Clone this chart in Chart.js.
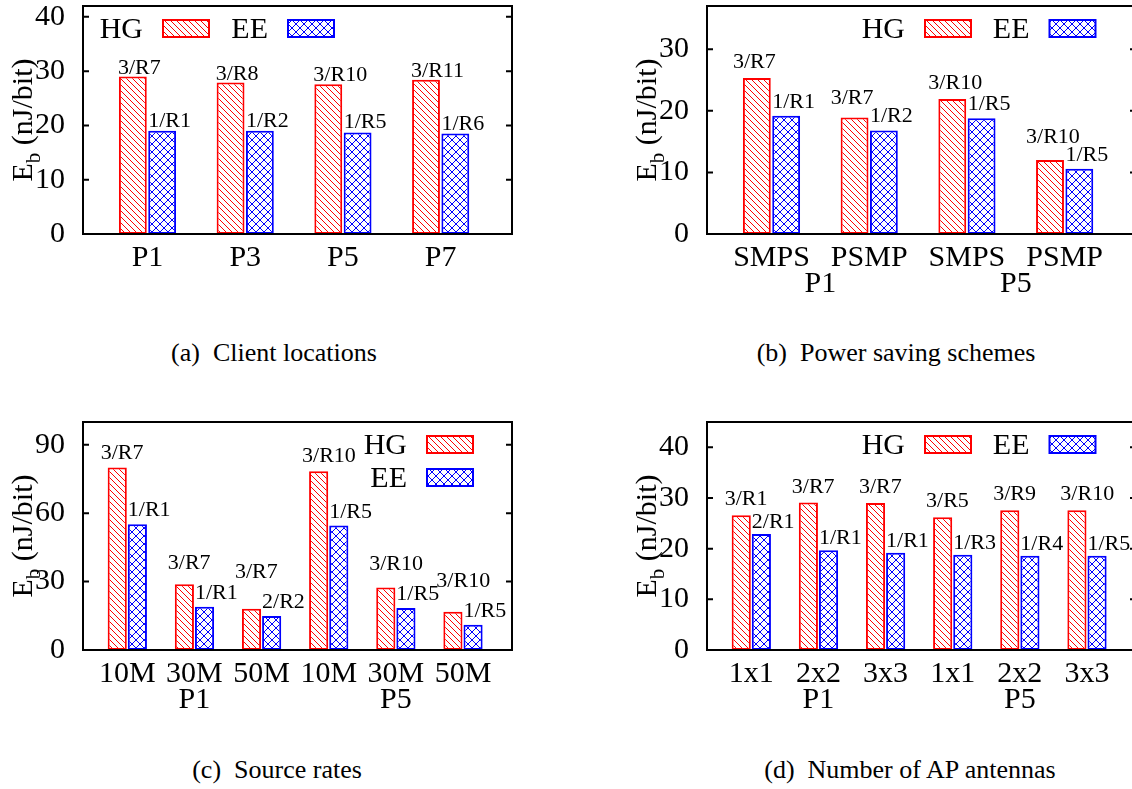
<!DOCTYPE html>
<html>
<head>
<meta charset="utf-8">
<title>Energy per bit</title>
<script src="https://cdn.jsdelivr.net/npm/chart.js@4.4.1/dist/chart.umd.min.js"></script>
<style>
  html, body { margin: 0; padding: 0; background: #fff; overflow: hidden; }
  body { width: 1132px; height: 789px; position: relative; font-family: "Liberation Serif", "Times New Roman", serif; }
  canvas { position: absolute; }
  .cap { position: absolute; font-size: 26px; line-height: 30px; white-space: pre; transform: translateX(-50%); color: #000; }
</style>
</head>
<body>
<canvas id="chartA" width="520" height="304" style="left:0;top:0"></canvas>
<canvas id="chartB" width="520" height="304" style="left:624px;top:0"></canvas>
<canvas id="chartC" width="520" height="304" style="left:0;top:416px"></canvas>
<canvas id="chartD" width="520" height="304" style="left:624px;top:416px"></canvas>
<div class="cap" style="left:274px;top:338px">(a)  Client locations</div>
<div class="cap" style="left:896px;top:338px">(b)  Power saving schemes</div>
<div class="cap" style="left:277px;top:755px">(c)  Source rates</div>
<div class="cap" style="left:910px;top:755px">(d)  Number of AP antennas</div>
<script>
// (a) client locations
const catsA = ['P1', 'P3', 'P5', 'P7'];
const hgA = [29.0, 27.9, 27.6, 28.4];
const eeA = [19.0, 19.0, 18.7, 18.5];
const hgLabA = ['3/R7', '3/R8', '3/R10', '3/R11'];
const eeLabA = ['1/R1', '1/R2', '1/R5', '1/R6'];
const yTicksA = [0, 10, 20, 30, 40];

// (b) power saving schemes
const catsB = ['SMPS', 'PSMP', 'SMPS', 'PSMP'];
const groupsB = ['P1', 'P5'];
const hgB = [25.3, 18.9, 21.9, 12.0];
const eeB = [19.2, 16.8, 18.8, 10.6];
const hgLabB = ['3/R7', '3/R7', '3/R10', '3/R10'];
const eeLabB = ['1/R1', '1/R2', '1/R5', '1/R5'];
const yTicksB = [0, 10, 20, 30];

// (c) source rates
const catsC = ['10M', '30M', '50M', '10M', '30M', '50M'];
const groupsC = ['P1', 'P5'];
const hgC = [80.0, 28.8, 18.1, 78.4, 27.4, 16.8];
const eeC = [55.2, 19.0, 14.9, 54.6, 18.4, 11.1];
const hgLabC = ['3/R7', '3/R7', '3/R7', '3/R10', '3/R10', '3/R10'];
const eeLabC = ['1/R1', '1/R1', '2/R2', '1/R5', '1/R5', '1/R5'];
const yTicksC = [0, 30, 60, 90];

// (d) number of AP antennas
const catsD = ['1x1', '2x2', '3x3', '1x1', '2x2', '3x3'];
const groupsD = ['P1', 'P5'];
const hgD = [26.6, 29.1, 29.0, 26.2, 27.6, 27.6];
const eeD = [22.9, 19.7, 19.2, 18.8, 18.6, 18.6];
const hgLabD = ['3/R1', '3/R7', '3/R7', '3/R5', '3/R9', '3/R10'];
const eeLabD = ['2/R1', '1/R1', '1/R1', '1/R3', '1/R4', '1/R5'];
const yTicksD = [0, 10, 20, 30, 40];

const FONT = '"Liberation Serif"';
const RED = '#ff0000', BLUE = '#0000ff';

function hatch(ctx, color, size, cross) {
  const c = document.createElement('canvas');
  c.width = c.height = size;
  const g = c.getContext('2d');
  g.fillStyle = '#fff';
  g.fillRect(0, 0, size, size);
  g.strokeStyle = color;
  g.lineWidth = 1;
  g.beginPath();
  for (let k = -1; k <= 1; k++) {
    g.moveTo(k * size, 0); g.lineTo(k * size + size, size);
    if (cross) { g.moveTo(k * size, size); g.lineTo(k * size + size, 0); }
  }
  g.stroke();
  return ctx.createPattern(c, 'repeat');
}

// frame, inward ticks, y title, bar labels, group labels and legend
const annot = {
  id: 'annot',
  afterDraw(chart, args, o) {
    const ctx = chart.ctx, a = chart.chartArea;
    const xs = chart.scales.x, ys = chart.scales.y;
    ctx.save();
    ctx.strokeStyle = '#000';
    ctx.lineWidth = 2;
    ctx.strokeRect(a.left, a.top, a.right - a.left, a.bottom - a.top);
    ctx.beginPath();
    ys.ticks.forEach(t => {
      const y = ys.getPixelForValue(t.value);
      if (y <= a.top + 1 || y >= a.bottom - 1) return;
      ctx.moveTo(a.left, y); ctx.lineTo(a.left + 6, y);
      ctx.moveTo(a.right, y); ctx.lineTo(a.right - 6, y);
    });
    ctx.stroke();

    // y axis title: E_b (nJ/bit)
    ctx.fillStyle = '#000';
    ctx.textAlign = 'left';
    ctx.textBaseline = 'alphabetic';
    ctx.font = '30px ' + FONT;
    const w1 = ctx.measureText('E').width, w3 = ctx.measureText(' (nJ/bit)').width;
    ctx.font = '21px ' + FONT;
    const w2 = ctx.measureText('b').width;
    ctx.save();
    ctx.translate(a.left - 51, (a.top + a.bottom) / 2);
    ctx.rotate(-Math.PI / 2);
    const x0 = -(w1 + w2 + w3) / 2;
    ctx.font = '30px ' + FONT;
    ctx.fillText('E', x0, 0);
    ctx.fillText(' (nJ/bit)', x0 + w1 + w2, 0);
    ctx.font = '21px ' + FONT;
    ctx.fillText('b', x0 + w1, 8);
    ctx.restore();

    // labels above the bars
    const ds = chart.data.datasets;
    const mh = chart.getDatasetMeta(0), me = chart.getDatasetMeta(1);
    ctx.font = '22px ' + FONT;
    mh.data.forEach((bh, i) => {
      const be = me.data[i];
      const eeBase = be.y - o.eeGap;
      const hgBase = Math.min(bh.y - o.hgGap, eeBase - o.stackGap);
      ctx.fillText(ds[1].barText[i], be.x - be.width / 2 + o.eeDx, eeBase);
      ctx.fillText(ds[0].barText[i], bh.x - bh.width / 2 + o.hgDx, hgBase);
    });

    // second level category labels
    if (o.groups) {
      const n = xs.ticks.length / o.groups.length;
      ctx.font = '30px ' + FONT;
      ctx.textAlign = 'center';
      ctx.textBaseline = 'middle';
      o.groups.forEach((g, k) => {
        ctx.fillText(g, xs.getPixelForValue(k * n + (n - 1) / 2), a.bottom + 50);
      });
    }

    // legend: text then sample box
    const L = o.legend;
    ds.forEach((d, k) => {
      const tx = a.left + L.x + k * L.dx, ty = a.top + L.y + k * L.dy;
      ctx.font = '30px ' + FONT;
      ctx.textAlign = 'right';
      ctx.textBaseline = 'alphabetic';
      ctx.fillStyle = '#000';
      ctx.fillText(d.label, tx, ty + 10);
      ctx.fillStyle = d.backgroundColor;
      ctx.fillRect(tx + 20, ty - 8, 46, 17);
      ctx.strokeStyle = d.borderColor;
      ctx.lineWidth = 2;
      ctx.strokeRect(tx + 20, ty - 8, 46, 17);
    });
    ctx.restore();
  }
};

function makeChart(id, cats, hg, ee, hgLab, eeLab, yTicks, yMax, groups, legend, lab) {
  const ctx = document.getElementById(id).getContext('2d');
  const tickFont = { family: FONT, size: 30 };
  return new Chart(ctx, {
    type: 'bar',
    data: {
      datasets: [{
        label: 'HG',
        data: hg.map((v, i) => ({ x: i, y: v })),
        barText: hgLab,
        backgroundColor: hatch(ctx, RED, 6, false),
        borderColor: RED,
        borderWidth: 2,
        borderSkipped: false,
        categoryPercentage: 0.6,
        barPercentage: 0.95
      }, {
        label: 'EE',
        data: ee.map((v, i) => ({ x: i, y: v })),
        barText: eeLab,
        backgroundColor: hatch(ctx, BLUE, 8, true),
        borderColor: BLUE,
        borderWidth: 2,
        borderSkipped: false,
        categoryPercentage: 0.6,
        barPercentage: 0.95
      }]
    },
    options: {
      responsive: false,
      animation: false,
      layout: { padding: { top: 6, right: 8, bottom: 0, left: 0 }, autoPadding: false },
      plugins: {
        legend: { display: false },
        tooltip: { enabled: false },
        annot: Object.assign({ groups: groups, legend: legend }, lab)
      },
      scales: {
        x: {
          type: 'linear',
          offset: false,
          min: -0.66,
          max: cats.length - 1 + 0.73,
          grid: { display: false, offset: false },
          border: { display: false },
          afterBuildTicks: s => { s.ticks = cats.map((c, i) => ({ value: i })); },
          afterFit: s => { s.height = 70; s.paddingLeft = 0; s.paddingRight = 0; },
          ticks: {
            autoSkip: false, maxRotation: 0, padding: -2,
            color: '#000', font: tickFont,
            callback: v => cats[v]
          }
        },
        y: {
          min: 0,
          max: yMax,
          grid: { display: false },
          border: { display: false },
          afterBuildTicks: s => { s.ticks = yTicks.map(v => ({ value: v })); },
          afterFit: s => { s.width = 83; s.paddingTop = 0; s.paddingBottom = 0; },
          ticks: { padding: 10, color: '#000', font: tickFont }
        }
      }
    },
    plugins: [annot]
  });
}

makeChart('chartA', catsA, hgA, eeA, hgLabA, eeLabA, yTicksA, 42, null,
  { x: 60, y: 22, dx: 125, dy: 0 },
  { hgDx: -1, hgGap: 3, eeDx: 0, eeGap: 4, stackGap: 18 });
makeChart('chartB', catsB, hgB, eeB, hgLabB, eeLabB, yTicksB, 37, groupsB,
  { x: 198, y: 22, dx: 124.5, dy: 0 },
  { hgDx: -10, hgGap: 10, eeDx: 0, eeGap: 8, stackGap: 18 });
makeChart('chartC', catsC, hgC, eeC, hgLabC, eeLabC, yTicksC, 100, groupsC,
  { x: 324, y: 22, dx: 0, dy: 33 },
  { hgDx: -7, hgGap: 9, eeDx: 0, eeGap: 8, stackGap: 30 });
makeChart('chartD', catsD, hgD, eeD, hgLabD, eeLabD, yTicksD, 45, groupsD,
  { x: 198, y: 22, dx: 124.5, dy: 0 },
  { hgDx: -7, hgGap: 10, eeDx: 0, eeGap: 6, stackGap: 18 });
</script>
</body>
</html>
